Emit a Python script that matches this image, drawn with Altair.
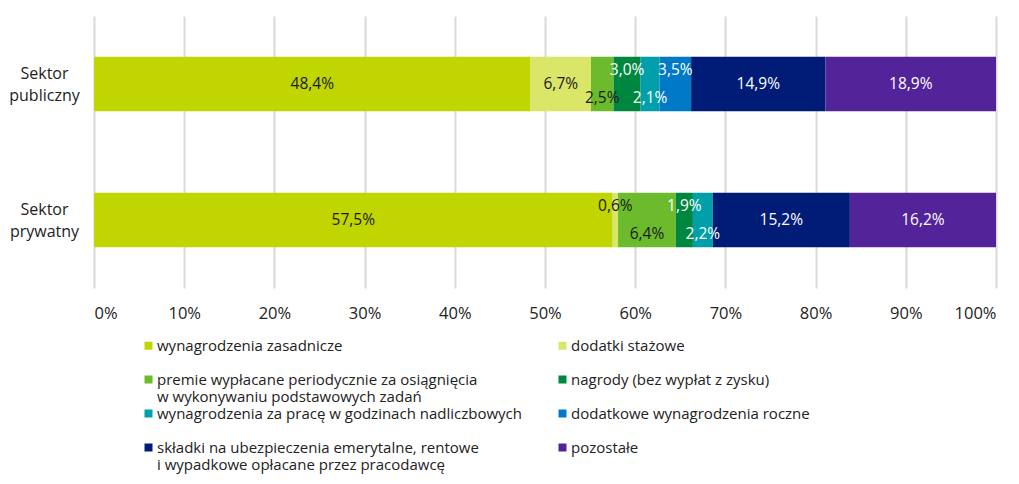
import altair as alt
import pandas as pd

categories = [
    "wynagrodzenia zasadnicze",
    "dodatki stażowe",
    "premie wypłacane periodycznie za osiągnięcia|w wykonywaniu podstawowych zadań",
    "nagrody (bez wypłat z zysku)",
    "wynagrodzenia za pracę w godzinach nadliczbowych",
    "dodatkowe wynagrodzenia roczne",
    "składki na ubezpieczenia emerytalne, rentowe|i wypadkowe opłacane przez pracodawcę",
    "pozostałe",
]
colors = ["#C1D600", "#D9E668", "#6CBB2D", "#00873F", "#009FAA", "#0079C6", "#001C76", "#532499"]
text_colors = ["#1a1a1a", "#1a1a1a", "#1a1a1a", "#ffffff", "#ffffff", "#ffffff", "#ffffff", "#ffffff"]

sectors = ["Sektor|publiczny", "Sektor|prywatny"]
public_values = [48.4, 6.7, 2.5, 3.0, 2.1, 3.5, 14.9, 18.9]
private_values = [57.5, 0.6, 6.4, 1.9, 2.2, 0.0, 15.2, 16.2]
public_label_pos = ["mid", "mid", "down", "up", "down", "up", "mid", "mid"]
private_label_pos = ["mid", "up", "down", "up", "down", "mid", "mid", "mid"]

rows = []
for sector, vals, poss in [(sectors[0], public_values, public_label_pos),
                           (sectors[1], private_values, private_label_pos)]:
    for i, (c, v, p) in enumerate(zip(categories, vals, poss)):
        rows.append({"sector": sector, "category": c, "idx": i, "value": v,
                     "pos": p, "tcol": text_colors[i]})
df = pd.DataFrame(rows)

FONT = "Open Sans"

base = alt.Chart(df).transform_window(
    cum="sum(value)", groupby=["sector"], sort=[{"field": "idx"}]
).transform_calculate(
    start="datum.cum - datum.value",
    mid="datum.cum - datum.value / 2",
    label="replace(format(datum.value, '.1f'), '.', ',') + '%'",
)

y_enc = alt.Y(
    "sector:N", sort=sectors, title=None,
    scale=alt.Scale(paddingInner=0.6, paddingOuter=0.3),
    axis=alt.Axis(labelExpr="split(datum.label, '|')", labelAlign="center",
                  labelPadding=50, labelFontSize=16, labelLineHeight=22, labelOffset=-10,
                  labelColor="#222222", labelFont=FONT, domain=False, ticks=False, grid=False),
)

bars = base.mark_bar().encode(
    y=y_enc,
    x=alt.X("start:Q", title=None,
            scale=alt.Scale(domain=[0, 100], nice=False),
            axis=alt.Axis(values=list(range(0, 101, 10)), labelExpr="datum.value + '%'",
                          labelFontSize=16.5, labelColor="#222222", labelFont=FONT,
                          labelPadding=17, domain=False, ticks=False,
                          grid=True, gridColor="#D9D9D9", gridWidth=2)),
    x2="cum:Q",
    color=alt.Color("category:N", scale=alt.Scale(domain=categories, range=colors),
                    legend=alt.Legend(
                        title=None, orient="none", legendX=47, legendY=322,
                        direction="horizontal",
                        columns=2, columnPadding=33, rowPadding=1, gridAlign="all",
                        symbolType="square", symbolSize=64, symbolStrokeWidth=0,
                        labelOffset=1, labelFontSize=15, labelFont=FONT,
                        labelColor="#222222", labelLimit=600,
                        labelExpr="split(indexof(datum.label, '|') < 0 ? datum.label + '| ' : datum.label, '|')")),
    order=alt.Order("idx:Q"),
)

def text_layer(pos, dy):
    return base.transform_filter(
        (alt.datum.value > 0) & (alt.datum.pos == pos)
    ).mark_text(fontSize=15.5, font=FONT, dy=dy).encode(
        y=alt.Y("sector:N", sort=sectors),
        x=alt.X("mid:Q"),
        text="label:N",
        fill=alt.Fill("tcol:N", scale=None, legend=None),
    )

chart = alt.layer(
    bars, text_layer("mid", 0), text_layer("up", -14), text_layer("down", 14)
).properties(
    width=902, height=272,
    padding={"left": 86, "top": 8, "right": 15, "bottom": 188},
    autosize=alt.AutoSizeParams(type="none"),
).configure_view(stroke=None)

chart.save("out.html", embed_options={"renderer": "svg", "actions": False})
